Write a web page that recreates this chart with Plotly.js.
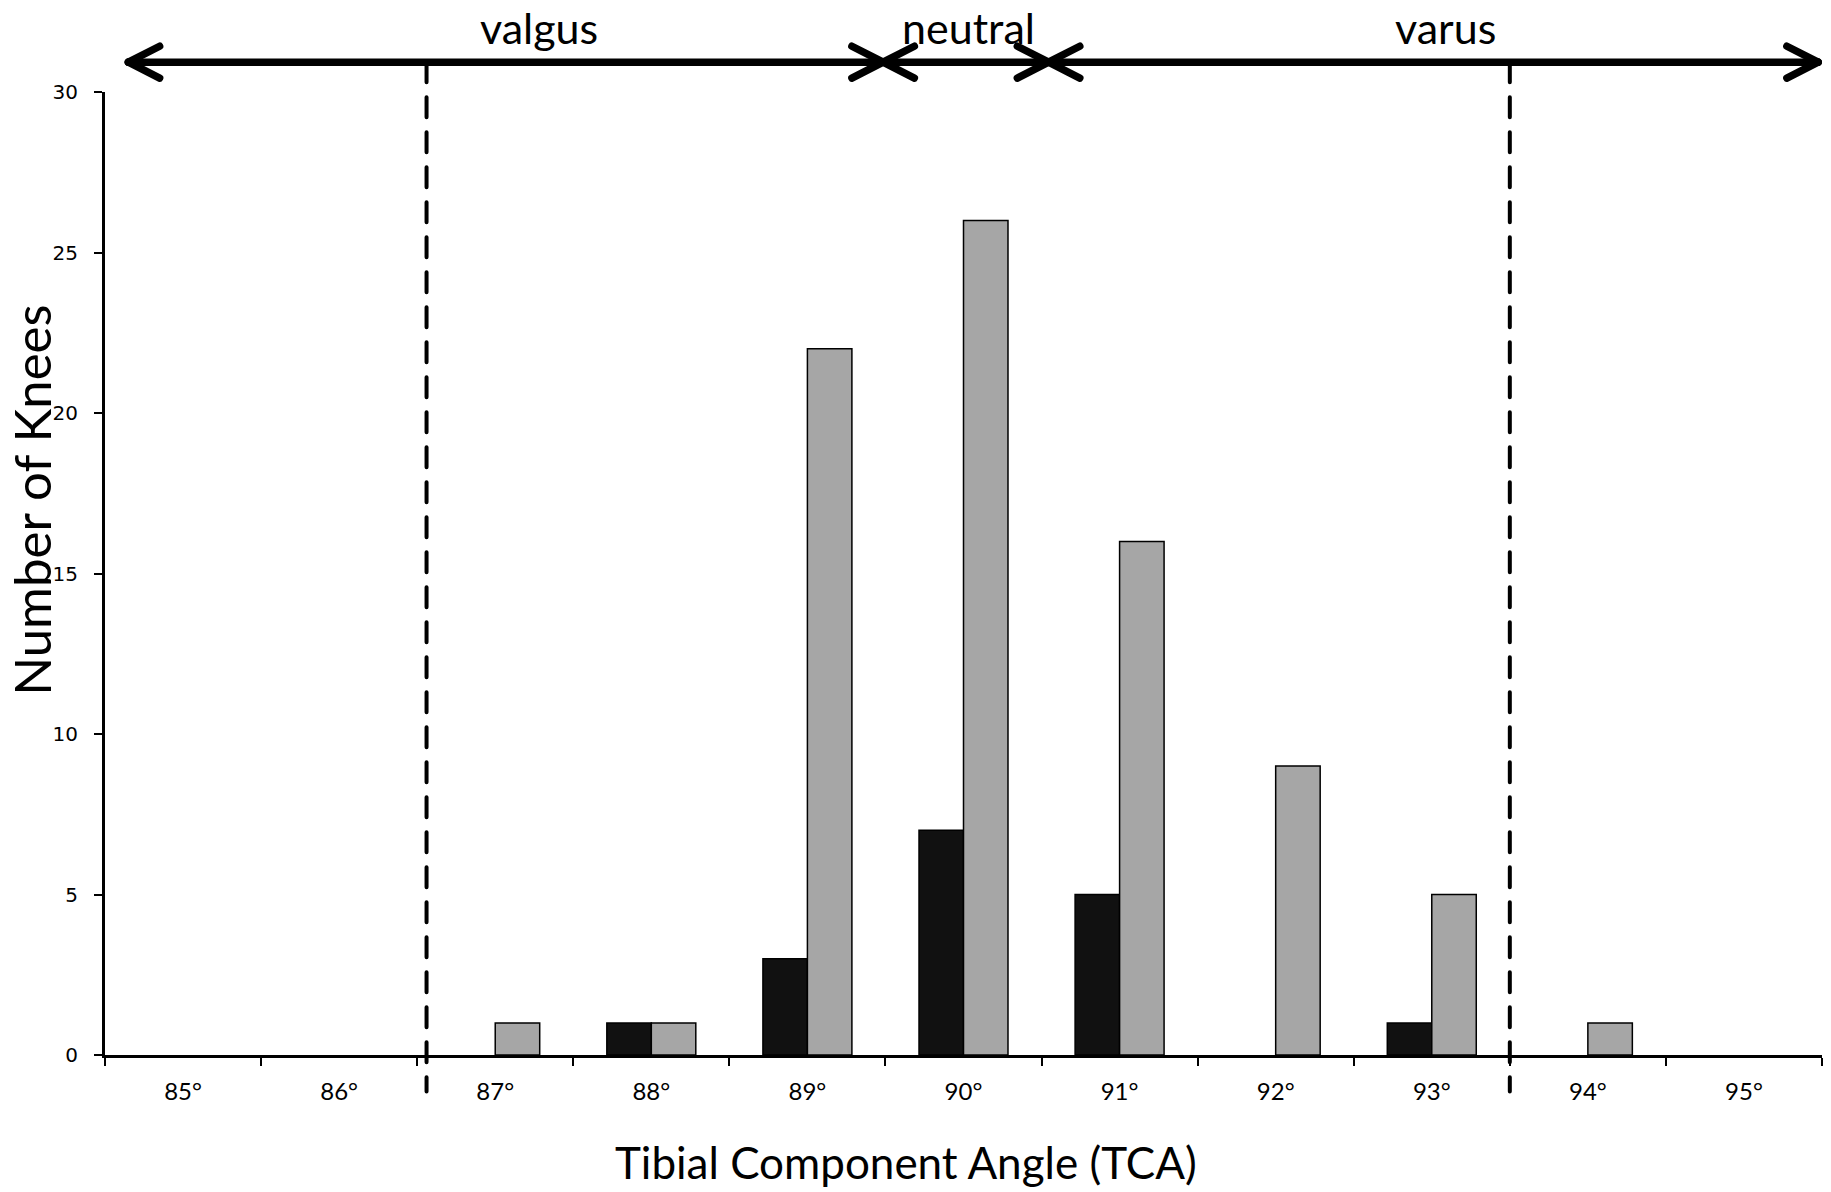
<!DOCTYPE html>
<html>
<head>
<meta charset="utf-8">
<script src="https://cdn.plot.ly/plotly-3.0.1.min.js"></script>
<style>
  html, body { margin: 0; padding: 0; background: #fff; }
  #chart { width: 1831px; height: 1192px; }
  .js-plotly-plot .shapelayer path { stroke-linecap: round; stroke-linejoin: round; }
</style>
</head>
<body>
<div id="chart"></div>
<script>
// ---- data ----
const categories = ['85°', '86°', '87°', '88°', '89°', '90°', '91°', '92°', '93°', '94°', '95°'];
const seriesDark = [0, 0, 0, 1, 3, 7, 5, 0, 1, 0, 0];
const seriesGray = [0, 0, 1, 1, 22, 26, 16, 9, 5, 1, 0];
const yTickValues = [0, 5, 10, 15, 20, 25, 30];
const xTitle = 'Tibial Component Angle (TCA)';
const yTitle = 'Number of Knees';

// region arrows above the plot (x in category-index units)
const regionNames = ['valgus', 'neutral', 'varus'];
const regionStart = [-0.35, 4.485, 5.545];
const regionEnd = [4.485, 5.545, 10.475];
const regionLabelX = [2.28, 5.03, 8.09];
// dashed cut-off lines (category-index units)
const cutoffLines = [1.56, 8.5];

// ---- styling ----
const arrowY = 1.031;      // paper units
const headDx = 0.2;        // index units
const headDy = 0.0165;     // paper units
const arrowWidth = 7.5;

const shapes = [];
function seg(x0, y0, x1, y1, w, dash) {
  shapes.push({
    type: 'line', xref: 'x', yref: 'paper',
    x0: x0, y0: y0, x1: x1, y1: y1,
    line: { color: '#000', width: w, dash: dash || 'solid' },
    layer: 'above'
  });
}
cutoffLines.forEach(function (xc) {
  seg(xc, arrowY, xc, -0.038, 4, '20px,15px');
});
for (let i = 0; i < regionNames.length; i++) {
  const a = regionStart[i], b = regionEnd[i];
  seg(a, arrowY, b, arrowY, arrowWidth);
  // left chevron
  seg(a, arrowY, a + headDx, arrowY + headDy, arrowWidth);
  seg(a, arrowY, a + headDx, arrowY - headDy, arrowWidth);
  // right chevron
  seg(b, arrowY, b - headDx, arrowY + headDy, arrowWidth);
  seg(b, arrowY, b - headDx, arrowY - headDy, arrowWidth);
}

const annotations = regionNames.map(function (name, i) {
  return {
    text: name, xref: 'x', yref: 'paper', x: regionLabelX[i], y: 1.0665,
    xanchor: 'center', yanchor: 'middle', showarrow: false, borderpad: 0,
    font: { family: 'Lato, sans-serif', size: 43, color: '#000' }
  };
});
// axis titles (offset from the plot centre, as in the reference)
annotations.push({
  text: xTitle, xref: 'paper', yref: 'paper', x: 0.4665, y: -0.111,
  xanchor: 'center', yanchor: 'middle', showarrow: false,
  font: { family: 'Lato, sans-serif', size: 44, color: '#000' }
});
annotations.push({
  text: yTitle, xref: 'paper', yref: 'paper', x: -0.0428, y: 0.576,
  xanchor: 'center', yanchor: 'middle', showarrow: false, textangle: -90,
  font: { family: 'Lato, sans-serif', size: 51, color: '#000' }
});

function hideZeros(arr) { return arr.map(function (v) { return v === 0 ? null : v; }); }

const traces = [
  {
    type: 'bar', x: categories, y: hideZeros(seriesDark), name: 'dark',
    marker: { color: '#111111', line: { color: '#000', width: 1.5 } },
    hoverinfo: 'skip'
  },
  {
    type: 'bar', x: categories, y: hideZeros(seriesGray), name: 'gray',
    marker: { color: '#a6a6a6', line: { color: '#000', width: 1.5 } },
    hoverinfo: 'skip'
  }
];

const layout = {
  width: 1831, height: 1192,
  paper_bgcolor: '#fff', plot_bgcolor: '#fff',
  margin: { l: 105, r: 9, t: 92, b: 137, pad: 0 },
  showlegend: false,
  barmode: 'group', bargap: 0.43, bargroupgap: 0,
  font: { family: 'Lato, sans-serif', color: '#000' },
  xaxis: {
    type: 'category', range: [-0.5, 10.5],
    showline: true, linecolor: '#000', linewidth: 3,
    ticks: 'outside', tickson: 'boundaries', ticklen: 8, tickwidth: 2, tickcolor: '#000',
    showgrid: false, zeroline: false,
    tickfont: { family: 'Lato, sans-serif', size: 24, color: '#000' },
    ticklabelstandoff: 13,
    automargin: false
  },
  yaxis: {
    range: [0, 30], tickvals: yTickValues, ticktext: yTickValues.map(String),
    showline: true, linecolor: '#000', linewidth: 3,
    ticks: 'outside', ticklen: 8, tickwidth: 2, tickcolor: '#000',
    showgrid: false, zeroline: false,
    tickfont: { family: 'DejaVu Sans, sans-serif', size: 20, color: '#000' },
    ticklabelstandoff: 12,
    automargin: false
  },
  shapes: shapes,
  annotations: annotations
};

Plotly.newPlot('chart', traces, layout, { staticPlot: true, displayModeBar: false });
</script>
</body>
</html>
